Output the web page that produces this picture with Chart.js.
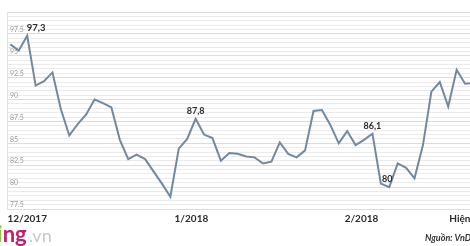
<!DOCTYPE html>
<html>
<head>
<meta charset="utf-8">
<script src="https://cdn.jsdelivr.net/npm/chart.js@4.4.1/dist/chart.umd.min.js"></script>
<style>
  html, body { margin: 0; padding: 0; background: #ffffff; }
  #wrap { width: 470px; height: 246px; overflow: hidden; position: relative; background: #fff; }
  canvas { display: block; }
</style>
</head>
<body>
<div id="wrap"><canvas id="c" width="492" height="246"></canvas></div>
<script>
// ---- data ----
const values = [96.3, 95.6, 97.3, 91.6, 92.1, 93.1, 88.9, 85.9, 87.2, 88.3,
                90.0, 89.6, 89.1, 85.4, 83.2, 83.7, 83.2, 81.8, 80.4, 78.9,
                84.4, 85.5, 87.8, 86.0, 85.6, 83.0, 83.9, 83.8, 83.5, 83.4,
                82.7, 82.9, 85.1, 83.8, 83.4, 84.2, 88.7, 88.8, 87.1, 85.0,
                86.4, 84.8, 85.4, 86.1, 80.4, 80.0, 82.7, 82.2, 81.0, 84.8,
                90.9, 92.0, 89.2, 93.4, 91.8, 91.9];
const xTickValues = [2, 21.5, 41.7, 54.2];
const xTickLabels = ['12/2017', '1/2018', '2/2018', 'Hiện tại'];
const annotatedIndex = [2, 22, 43, 45];
const annotatedText = ['97,3', '87,8', '86,1', '80'];
const sourceText = 'Nguồn: VnDirect';

const points = values.map((v, i) => ({ x: i, y: v }));

const annotatePlugin = {
  id: 'annotate',
  afterDatasetsDraw(chart) {
    const ctx = chart.ctx;
    const meta = chart.getDatasetMeta(0);
    ctx.save();
    ctx.fillStyle = '#2b2b2b';
    ctx.textAlign = 'center';
    ctx.textBaseline = 'bottom';
    annotatedIndex.forEach((idx, k) => {
      const el = meta.data[idx];
      if (!el) return;
      ctx.font = (k === 0 ? 'bold 9.5px' : 'bold 9px') + ' Lato, "Open Sans", sans-serif';
      let dx = 0, dy = -3;
      if (k === 0) { dx = 9; dy = -3; }
      if (k === 3) { dx = -2; dy = -4; }
      ctx.fillText(annotatedText[k], el.x + dx, el.y + dy);
    });
    ctx.restore();
  },
  afterDraw(chart) {
    const ctx = chart.ctx;
    ctx.save();
    // source note
    ctx.font = 'italic bold 9px Lato, "Open Sans", sans-serif';
    ctx.fillStyle = '#333';
    ctx.textAlign = 'left';
    ctx.textBaseline = 'middle';
    ctx.fillText(sourceText, 425, 238);
    // watermark
    ctx.textBaseline = 'alphabetic';
    ctx.font = 'bold 22px Lato, "Open Sans", sans-serif';
    let x = -13;
    ctx.fillStyle = 'rgba(150,150,150,0.6)';
    ctx.fillText('z', x, 242); x += ctx.measureText('z').width;
    ctx.fillStyle = '#8cc63f';
    ctx.fillText('i', x, 242); x += ctx.measureText('i').width;
    ctx.fillStyle = '#c71d6f';
    ctx.fillText('ng', x, 242); x += ctx.measureText('ng').width;
    ctx.font = '18px Lato, "Open Sans", sans-serif';
    ctx.fillStyle = '#c8c8c8';
    ctx.fillText('.vn', x + 2, 242);
    ctx.restore();
  }
};

new Chart(document.getElementById('c'), {
  type: 'line',
  data: {
    datasets: [{
      data: points,
      borderColor: '#7189a0',
      borderWidth: 2,
      pointRadius: 0,
      tension: 0,
      fill: false
    }]
  },
  options: {
    responsive: false,
    animation: false,
    devicePixelRatio: 1,
    layout: { padding: { top: 12, left: 1, right: 0, bottom: 17 } },
    plugins: { legend: { display: false }, tooltip: { enabled: false } },
    scales: {
      x: {
        type: 'linear',
        min: -0.4,
        max: 57.2,
        grid: { display: false, drawTicks: false },
        border: { display: false },
        afterBuildTicks(scale) { scale.ticks = xTickValues.map(v => ({ value: v })); },
        ticks: {
          autoSkip: false,
          maxRotation: 0,
          padding: 4,
          color: '#2b2b2b',
          font: { family: 'Lato, "Open Sans", sans-serif', size: 10, weight: 'bold' },
          callback: (v, i) => xTickLabels[i]
        }
      },
      y: {
        min: 77.5,
        max: 100,
        grid: {
          drawTicks: false,
          color: ctx => (ctx.tick && Math.abs(ctx.tick.value % 2.5) < 1e-6) ? '#dcdcdc' : '#ebebeb',
          lineWidth: 1
        },
        border: { display: true, color: '#e0e0e0' },
        ticks: {
          stepSize: 0.5,
          autoSkip: false,
          mirror: true,
          padding: 3,
          labelOffset: -4,
          color: '#9a9a9a',
          font: { family: 'Lato, "Open Sans", sans-serif', size: 7 },
          callback: v => (Math.abs(v % 2.5) < 1e-6 && v < 100) ? String(v) : ''
        }
      }
    }
  },
  plugins: [annotatePlugin]
});
</script>
</body>
</html>
